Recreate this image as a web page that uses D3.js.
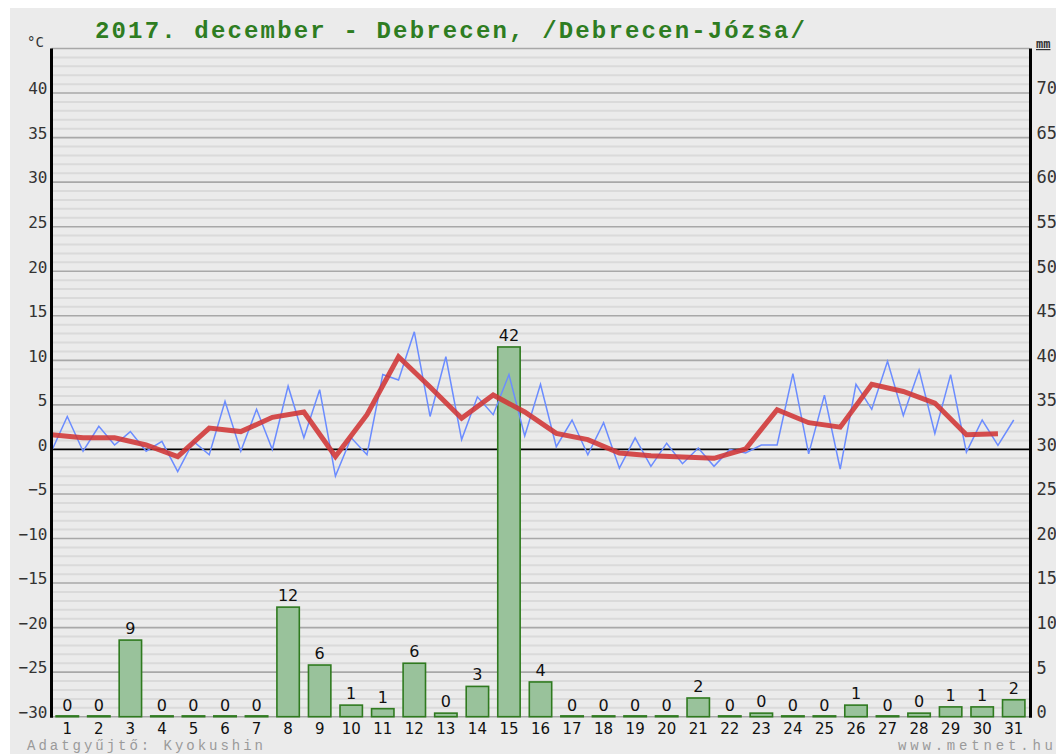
<!DOCTYPE html>
<html>
<head>
<meta charset="utf-8">
<script src="https://cdn.jsdelivr.net/npm/d3@7"></script>
<style>
  html, body { margin: 0; padding: 0; background: #ffffff; }
  svg { display: block; }
</style>
</head>
<body>
<svg id="chart" width="1056" height="754"></svg>
<script>
// ---- data ----
const days = ["1","2","3","4","5","6","7","8","9","10","11","12","13","14","15","16","17","18","19","20","21","22","23","24","25","26","27","28","29","30","31"];
const tempLow  = [-0.2,-0.2,0.5,-0.2,-2.5,-0.6,-0.2,0.0,1.3,-3.0,-0.6,7.8,3.7,1.1,3.9,1.5,0.3,-0.6,-2.1,-1.9,-1.6,-1.9,-0.4,0.5,-0.5,-2.2,4.5,3.8,1.8,-0.3,0.45];
const tempHigh = [3.7,2.6,2.0,0.9,0.9,5.4,4.5,7.1,6.7,1.3,8.4,13.2,10.4,5.9,8.4,7.3,3.3,3.0,1.3,0.7,0.15,0.0,0.5,8.5,6.1,7.3,9.9,8.9,8.4,3.3,3.3];
const tempMean = [1.65,1.3,1.3,0.5,-0.8,2.4,2.0,3.6,4.2,-0.8,3.9,10.4,7.0,3.5,6.1,4.2,1.8,1.1,-0.4,-0.7,-0.85,-1.0,0.05,4.45,3.0,2.5,7.3,6.5,5.2,1.65,1.75];
const precip   = [0,0,8.6,0,0,0,0,12.3,5.8,1.3,0.9,6.0,0.4,3.4,41.5,3.9,0,0,0,0,2.1,0,0.4,0,0,1.3,0,0.4,1.1,1.1,1.9];
const tempTicks = [-30,-25,-20,-15,-10,-5,0,5,10,15,20,25,30,35,40];
const mmTicks   = [0,5,10,15,20,25,30,35,40,45,50,55,60,65,70];
const titleText = "2017. december - Debrecen, /Debrecen-Józsa/";
const footLeft = "Adatgyűjtő: Kyokushin";
const footRight = "www.metnet.hu";

// ---- layout ----
const svg = d3.select("#chart");
const L = 51.5, R = 1029.5, T = 48.5, B = 716.7;

const x = d3.scaleBand().domain(days).range([L, R]).padding(0);
const bw = x.bandwidth();
const y = d3.scaleLinear().domain([-30, 45]).range([B, T]);
const yMm = d3.scaleLinear().domain([0, 75]).range([B, T]);

// background
svg.append("rect").attr("x", 10).attr("y", 8).attr("width", 1046).attr("height", 746).attr("fill", "#ebebeb");

// grid
const g = svg.append("g");
g.selectAll("line.minor").data(d3.range(-30, 46, 1).filter(v => v % 5 !== 0))
  .join("line").attr("class", "minor")
  .attr("x1", L).attr("x2", R).attr("y1", d => y(d)).attr("y2", d => y(d))
  .attr("stroke", "#dadada").attr("stroke-width", 2);
g.selectAll("line.major").data(d3.range(-30, 46, 5).filter(v => v !== 0))
  .join("line").attr("class", "major")
  .attr("x1", L).attr("x2", R).attr("y1", d => y(d)).attr("y2", d => y(d))
  .attr("stroke", "#a8a8a8").attr("stroke-width", 1.6);
// zero line
g.append("line").attr("x1", L).attr("x2", R).attr("y1", y(0)).attr("y2", y(0))
  .attr("stroke", "#000").attr("stroke-width", 1.6);

// bars
const barW = bw * 0.71;
svg.append("g").selectAll("rect").data(precip).join("rect")
  .attr("x", (d, i) => x(days[i]) + (bw - barW) / 2)
  .attr("y", d => yMm(d) - (d === 0 ? 0.8 : 0))
  .attr("width", barW)
  .attr("height", d => Math.max(0.8, yMm(0) - yMm(d)))
  .attr("fill", "#99c29b").attr("stroke", "#2f7a1f").attr("stroke-width", 1.6);

// bar value labels
svg.append("g").selectAll("text").data(precip).join("text")
  .attr("x", (d, i) => x(days[i]) + bw / 2)
  .attr("y", d => yMm(d) - 6)
  .attr("text-anchor", "middle")
  .attr("font-family", "DejaVu Sans, sans-serif").attr("font-size", 16).attr("fill", "#111")
  .text(d => Math.round(d));

// temperature lines
const pts = [];
days.forEach((d, i) => {
  pts.push([x(d), tempLow[i]]);
  pts.push([x(d) + bw / 2, tempHigh[i]]);
});
svg.append("path").datum(pts)
  .attr("d", d3.line().x(p => p[0]).y(p => y(p[1])))
  .attr("fill", "none").attr("stroke", "#6b8cff").attr("stroke-width", 1.5);

svg.append("path").datum(tempMean)
  .attr("d", d3.line().x((v, i) => x(days[i])).y(v => y(v)))
  .attr("fill", "none").attr("stroke", "#d03535").attr("stroke-width", 5)
  .attr("stroke-opacity", 0.88).attr("stroke-linejoin", "miter");

// axes lines
svg.append("line").attr("x1", L).attr("x2", L).attr("y1", T).attr("y2", B + 1)
  .attr("stroke", "#000").attr("stroke-width", 3);
svg.append("line").attr("x1", R + 1).attr("x2", R + 1).attr("y1", T).attr("y2", B + 1)
  .attr("stroke", "#000").attr("stroke-width", 3);

// left axis labels
const axL = svg.append("g").attr("transform", `translate(${L - 4},0)`)
  .call(d3.axisLeft(y).tickValues(tempTicks).tickSize(0).tickPadding(0));
axL.select(".domain").remove();
axL.selectAll("text").attr("dy", "0.05em")
  .attr("font-family", "DejaVu Sans Mono, monospace").attr("font-size", 16).attr("fill", "#333");

// right axis labels
const axR = svg.append("g").attr("transform", `translate(${R + 7},0)`)
  .call(d3.axisRight(yMm).tickValues(mmTicks).tickSize(0).tickPadding(0));
axR.select(".domain").remove();
axR.selectAll("text").attr("dy", "0.05em")
  .attr("font-family", "DejaVu Sans Mono, monospace").attr("font-size", 17).attr("fill", "#333");

// unit labels
svg.append("text").attr("x", 27).attr("y", 47).text("°C")
  .attr("font-family", "DejaVu Sans Mono, monospace").attr("font-size", 14).attr("fill", "#333");
svg.append("text").attr("x", 1036).attr("y", 48).text("mm")
  .attr("font-family", "DejaVu Sans Mono, monospace").attr("font-size", 12).attr("font-weight", "bold")
  .attr("text-decoration", "underline").attr("fill", "#333");

// bottom axis (days)
const axB = svg.append("g").attr("transform", `translate(0,${B})`)
  .call(d3.axisBottom(x).tickSize(0).tickPadding(0));
axB.select(".domain").remove();
axB.selectAll("text").attr("y", 17).attr("dy", "0")
  .attr("font-family", "DejaVu Sans, sans-serif").attr("font-size", 15).attr("fill", "#111");

// title
svg.append("text").attr("x", 95).attr("y", 38).text(titleText)
  .attr("font-family", "Liberation Mono, monospace").attr("font-weight", "bold")
  .attr("font-size", 24).attr("fill", "#2e7d22")
  .attr("textLength", 710).attr("lengthAdjust", "spacing");

// footer
svg.append("text").attr("x", 27).attr("y", 750).text(footLeft)
  .attr("font-family", "Liberation Mono, monospace").attr("font-size", 14).attr("fill", "#9a9a9a")
  .attr("textLength", 236).attr("lengthAdjust", "spacing");
svg.append("text").attr("x", 1053).attr("y", 750).attr("text-anchor", "end").text(footRight)
  .attr("font-family", "Liberation Mono, monospace").attr("font-size", 14).attr("fill", "#9a9a9a")
  .attr("textLength", 155).attr("lengthAdjust", "spacing");
</script>
</body>
</html>
